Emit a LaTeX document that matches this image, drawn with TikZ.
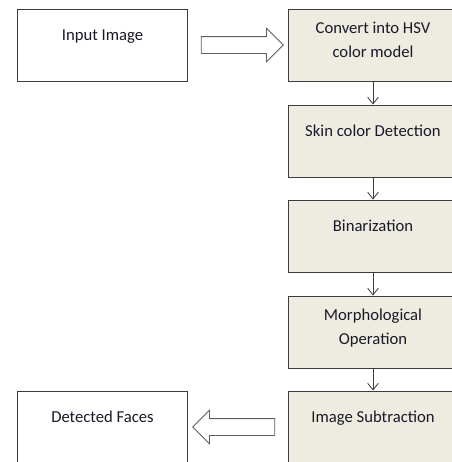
\documentclass[tikz,border=0pt]{standalone}
\usepackage{fontspec}
\setmainfont{Carlito}
\usetikzlibrary{shapes.arrows,arrows.meta}
\definecolor{boxfill}{RGB}{238,236,225}
\definecolor{boxline}{RGB}{60,60,60}
\definecolor{txt}{RGB}{25,25,40}
\tikzset{
  stagebox/.style={draw=boxline, line width=0.7pt, minimum width=127.5pt, minimum height=54pt,
    inner sep=0pt, align=center, font=\fontsize{12.5}{18}\selectfont, text=txt,
    text height=8pt, text depth=15pt},
  shaded/.style={stagebox, fill=boxfill},
  twoline/.style={text height=26pt, text depth=7.5pt},
  bigarrow/.style={single arrow, draw={rgb,255:red,95;green,95;blue,95}, fill=white, line width=0.7pt,
    minimum height=61.5pt, inner sep=6pt, single arrow head extend=6.2pt},
  flow/.style={-{Straight Barb[length=5pt,width=8pt]}, line width=0.6pt, draw=boxline}
}
\begin{document}
\begin{tikzpicture}[x=0.75pt,y=0.75pt,yscale=-1,xscale=1]
\clip (0,0) rectangle (452,462);
\fill[white] (0,0) rectangle (452,462);

\node[stagebox] (input) at (102.5,45) {Input Image};
\node[shaded, twoline] (hsv) at (373,45) {Convert into HSV\\color model};
\node[shaded] (skin) at (373,141) {Skin color Detection};
\node[shaded] (binar) at (373,236) {Binarization};
\node[shaded, twoline] (morph) at (373,332) {Morphological\\Operation};
\node[shaded] (subtr) at (373,427) {Image Subtraction};
\node[stagebox] (faces) at (102.5,427) {Detected Faces};

\node[bigarrow] (toright) at (238,45) {};
\node[bigarrow, shape border rotate=180] (toleft) at (238,427) {};

\draw[flow] (hsv) -- (skin);
\draw[flow] (skin) -- (binar);
\draw[flow] (binar) -- (morph);
\draw[flow] (morph) -- (subtr);
\end{tikzpicture}
\end{document}
